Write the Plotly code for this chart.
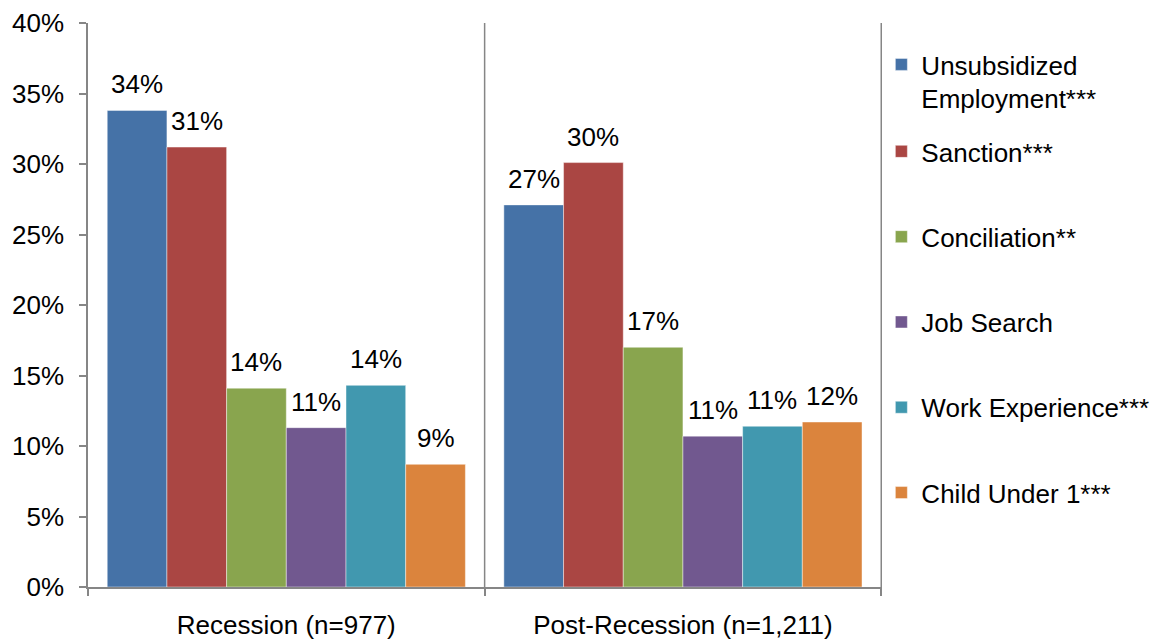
import plotly.graph_objects as go

# Share of sample by sanction/exemption reason, two periods
periods = ["Recession (n=977)", "Post-Recession (n=1,211)"]
series_names = [
    "Unsubsidized<br>Employment***",
    "Sanction***",
    "Conciliation**",
    "Job Search",
    "Work Experience***",
    "Child Under 1***",
]
unsubsidized = [0.338, 0.271]
sanction = [0.312, 0.301]
conciliation = [0.141, 0.170]
job_search = [0.113, 0.107]
work_experience = [0.143, 0.114]
child_under_1 = [0.087, 0.117]

series_values = [unsubsidized, sanction, conciliation, job_search,
                 work_experience, child_under_1]
colors = ["#4572A7", "#AA4643", "#89A54E", "#71588F", "#4198AF", "#DB843D"]

FONT = "Liberation Sans, Arial, sans-serif"
AXIS_GRAY = "#868686"
BARGAP = 0.097

fig = go.Figure()
for i, (name, vals, col) in enumerate(zip(series_names, series_values, colors)):
    fig.add_trace(go.Bar(
        x=periods,
        y=vals,
        name=name,
        marker=dict(color=col, line=dict(color="rgba(255,255,255,0.55)", width=0.8)),
        legend="legend" if i == 0 else "legend2",
        legendgroup=f"g{i}",
        hovertemplate="%{y:.1%}<extra>" + name.replace("<br>", " ") + "</extra>",
    ))

# Value labels above each bar, placed at the grouped-bar centres
n_series = len(series_values)
slot = (1 - BARGAP) / n_series
for i, vals in enumerate(series_values):
    for g, v in enumerate(vals):
        fig.add_annotation(
            x=g - (1 - BARGAP) / 2 + (i + 0.5) * slot,
            y=v,
            xref="x", yref="y",
            text=f"{v:.0%}",
            showarrow=False,
            yanchor="bottom",
            yshift=9,
            font=dict(family=FONT, size=26, color="#000000"),
        )

# Category separators / right frame
for xv in (0.5, 1.5):
    fig.add_shape(type="line", xref="x", yref="paper", x0=xv, x1=xv, y0=0, y1=1,
                  line=dict(color=AXIS_GRAY, width=1.5), layer="above")

legend_common = dict(
    xref="paper", yref="paper", xanchor="left", yanchor="top",
    font=dict(family=FONT, size=26, color="#000000"),
    bgcolor="rgba(0,0,0,0)", borderwidth=0, valign="top",
    itemclick=False, itemdoubleclick=False,
)

fig.update_layout(
    width=1160,
    height=641,
    margin=dict(l=88, r=278, t=23, b=54, autoexpand=False),
    paper_bgcolor="white",
    plot_bgcolor="white",
    barmode="group",
    bargap=BARGAP,
    bargroupgap=0,
    font=dict(family=FONT, size=26, color="#000000"),
    showlegend=True,
    legend=dict(x=0.9992, y=0.9681, **legend_common),
    legend2=dict(x=0.9992, y=0.8139, tracegroupgap=48.5, traceorder="grouped",
                 **legend_common),
    xaxis=dict(
        showline=True, linecolor=AXIS_GRAY, linewidth=1.5,
        ticks="outside", tickson="boundaries", ticklen=7, tickcolor=AXIS_GRAY,
        tickwidth=1.5, showgrid=False, zeroline=False, ticklabelstandoff=14,
        automargin=False,
        tickfont=dict(family=FONT, size=26, color="#000000"),
    ),
    yaxis=dict(
        range=[0, 0.40], dtick=0.05, tickformat=".0%",
        showline=True, linecolor=AXIS_GRAY, linewidth=1.5,
        ticks="outside", ticklen=7, tickcolor=AXIS_GRAY, tickwidth=1.5,
        showgrid=False, zeroline=False, ticklabelstandoff=10, automargin=False,
        tickfont=dict(family=FONT, size=26, color="#000000"),
    ),
)

fig.write_html("out.html")
